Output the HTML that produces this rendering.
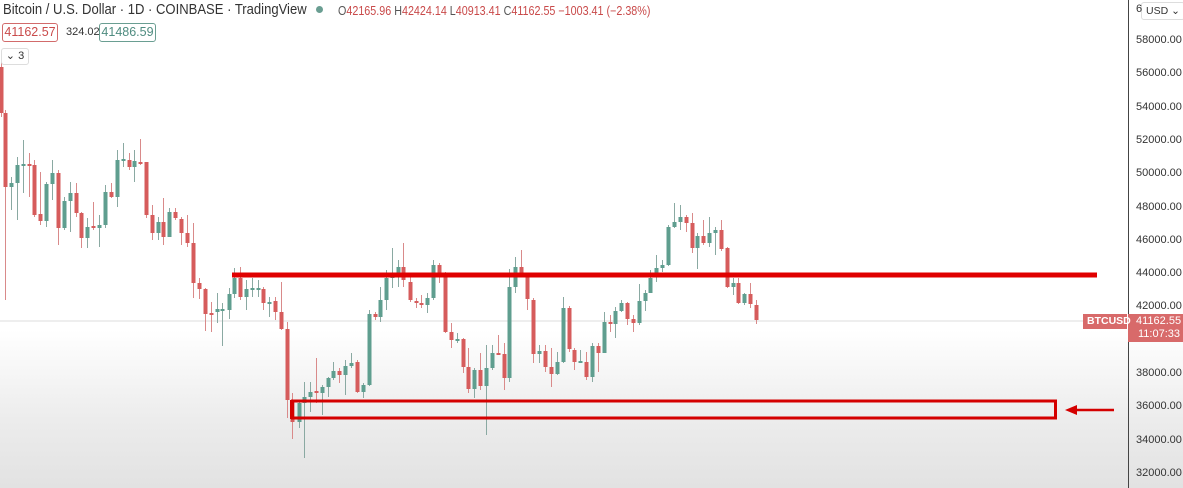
<!DOCTYPE html>
<html><head><meta charset="utf-8"><style>
html,body{margin:0;padding:0;width:1183px;height:488px;overflow:hidden;font-family:"Liberation Sans",sans-serif;}
#bg{position:absolute;left:0;top:0;width:1183px;height:488px;background:linear-gradient(to bottom,#fff 0px,#fff 330px,#ececec 420px,#e2e2e2 488px);}
.t{position:absolute;white-space:nowrap;}
.bx{position:absolute;border-radius:3px;font-size:12.5px;text-align:center;box-sizing:border-box;}
</style></head><body>
<div id="bg"></div>
<svg id="s" width="1183" height="488" style="position:absolute;left:0;top:0">
<line x1="0" y1="321" x2="1128" y2="321" stroke="#dcdcdc" stroke-width="1"/>
<g id="c"></g>
<rect x="232" y="272.5" width="865" height="5" fill="#e00000"/>
<rect x="292.5" y="401" width="763" height="17" fill="none" stroke="#d40000" stroke-width="3"/>
<rect x="290" y="400" width="4" height="19" fill="#d40000"/>
<line x1="1114" y1="410" x2="1074" y2="410" stroke="#d40000" stroke-width="2.5"/>
<polygon points="1065,410 1077,405 1077,415" fill="#d40000"/>
<line x1="1128.5" y1="0" x2="1128.5" y2="488" stroke="#444" stroke-width="1"/>
<rect x="1083" y="314" width="44" height="15" fill="#d86a6a"/>
<rect x="1128" y="314" width="55" height="28" fill="#d86a6a"/>
</svg>
<div class="t" style="left:3px;top:2px;font-size:14.5px;color:#333;transform:scaleX(0.9);transform-origin:0 0">Bitcoin / U.S. Dollar · 1D · COINBASE · TradingView</div>
<div class="t" style="left:316px;top:6px;width:7px;height:7px;border-radius:50%;background:#6a9e92"></div>
<div class="t" style="left:338px;top:4px;font-size:12.5px;color:#c94a4a;transform:scaleX(0.86);transform-origin:0 0"><span style="color:#555">O</span>42165.96 <span style="color:#555">H</span>42424.14 <span style="color:#555">L</span>40913.41 <span style="color:#555">C</span>41162.55 −1003.41 (−2.38%)</div>
<div class="bx" style="left:2px;top:23px;width:56px;height:19px;line-height:17px;border:1px solid #d26b6b;color:#c94a4a">41162.57</div>
<div class="t" style="left:66px;top:26px;font-size:11px;color:#333">324.02</div>
<div class="bx" style="left:99px;top:23px;width:57px;height:19px;line-height:17px;border:1px solid #6a9e92;color:#4f8c80">41486.59</div>
<div class="bx" style="left:1px;top:48px;width:28px;height:17px;line-height:15px;border:1px solid #ddd;color:#333;font-size:11px">⌄ 3</div>
<div class="t" style="left:1141px;top:2px;height:16px;padding:0 4px;border:1px solid #ddd;border-radius:3px;background:#fff;font-size:10.5px;line-height:16px;color:#333">USD ⌄</div>
<div class="t" style="left:1136px;top:3px;font-size:11px;color:#333">6</div>
<div id="ax"></div>
<div class="t" style="left:1087px;top:315px;font-size:10.5px;color:#fff;font-weight:bold">BTCUSD</div>
<div class="t" style="left:1136px;top:315px;font-size:11px;color:#fff">41162.55</div>
<div class="t" style="left:1138px;top:328px;font-size:11px;color:#fff">11:07:33</div>
<script>
var ax=document.getElementById('ax'),h='';
for(var p=58000;p>=32000;p-=2000){var y=41+(58000-p)/2000*33.3;if(p==40000)continue;h+='<div class="t" style="left:1136px;top:'+(y-7)+'px;font-size:11px;color:#333">'+p+'.00</div>';}
ax.innerHTML=h;
var A=[[1,'r',67,113,60,117],[5,'r',113,187,110,300],[11,'g',183,187,177,210],[17,'g',165,183,157,220],[23,'g',164,165,140,193],[29,'r',164,165,153,197],[34,'r',165,215,160,217],[40,'r',214,221,172,225],[46,'g',184,221,182,227],[52,'g',173,184,160,200],[58,'r',173,228,170,245],[64,'g',201,228,197,230],[70,'g',193,201,182,232],[76,'r',193,213,183,217],[81,'r',213,238,212,248],[87,'g',227,238,218,248],[93,'r',226,228,202,230],[99,'g',225,228,215,247],[105,'g',192,225,185,228],[111,'r',192,197,183,198],[117,'g',160,197,150,207],[123,'g',159,160,143,167],[129,'r',160,167,153,170],[134,'g',161,167,150,182],[140,'r',162,164,139,165],[146,'r',162,215,162,218],[152,'r',215,233,205,240],[158,'g',222,233,217,240],[163,'r',222,237,198,245],[169,'g',212,237,208,237],[175,'r',212,218,208,220],[181,'r',219,233,217,245],[187,'r',233,243,215,247],[193,'r',243,283,223,298],[199,'r',283,289,278,299],[205,'r',289,314,288,331],[211,'r',313,314,302,332],[217,'g',309,312,293,323],[222,'g',309,310,303,346],[229,'g',294,310,288,319],[234,'g',278,294,268,298],[240,'r',278,297,267,300],[246,'g',289,297,280,310],[252,'g',288,289,278,297],[258,'g',288,289,280,297],[263,'r',289,303,287,310],[269,'g',302,303,297,317],[275,'r',301,312,297,320],[281,'r',312,329,282,330],[287,'r',329,400,322,418],[292,'r',400,422,393,439],[299,'g',403,422,400,428],[304,'g',397,403,382,458],[310,'g',392,397,382,412],[316,'r',391,393,358,403],[322,'g',387,393,385,415],[328,'g',378,387,377,397],[333,'g',371,378,362,380],[339,'r',371,375,368,383],[345,'g',366,375,360,395],[351,'g',363,366,353,368],[357,'r',362,392,360,393],[363,'g',385,392,383,398],[369,'g',314,385,310,386],[375,'r',314,317,312,320],[380,'g',300,317,287,322],[386,'g',278,300,270,310],[392,'g',273,278,248,288],[398,'g',267,273,260,287],
[403,'r',267,280,243,287],[410,'r',282,300,277,302],[416,'r',301,303,298,308],[421,'r',303,305,295,308],[427,'g',298,305,293,313],[433,'g',265,298,260,300],[439,'r',265,277,263,283],[445,'r',277,332,272,333],[451,'r',332,340,323,348],[457,'g',339,340,333,343],[463,'r',339,367,338,373],[468,'r',367,389,348,393],[474,'g',370,389,368,398],[480,'r',370,386,353,390],[486,'g',368,386,345,435],[492,'g',353,368,345,370],[498,'r',353,355,335,355],[504,'r',354,378,343,390],[509,'g',287,378,269,382],[515,'g',267,287,257,293],[521,'r',267,277,250,277],[527,'r',277,299,275,310],[533,'r',300,354,298,363],[539,'g',351,354,345,363],[545,'r',351,367,345,372],[551,'r',367,374,348,387],[557,'g',362,374,352,375],[563,'g',308,362,297,363],[569,'r',308,349,306,352],[574,'r',350,362,348,370],[580,'g',361,362,350,363],[586,'r',362,377,352,380],[592,'g',346,377,343,382],[598,'r',346,353,343,372],[604,'g',322,353,312,353],[610,'r',322,324,315,332],[615,'g',311,324,307,338],[621,'g',303,311,300,312],[627,'r',303,319,302,325],[633,'r',319,323,315,332],[639,'g',301,323,284,325],[645,'g',293,301,290,311],[650,'g',278,293,270,293],[656,'g',268,273,255,282],[662,'g',265,268,260,272],[668,'g',227,265,225,266],[674,'g',222,227,203,228],[680,'g',217,222,205,230],[686,'r',217,223,215,232],[692,'r',223,248,213,253],[697,'g',236,248,233,269],[703,'r',236,243,220,245],[709,'g',233,243,217,247],[715,'g',230,233,227,255],[721,'r',230,249,220,251],[727,'r',248,287,247,288],[733,'g',283,287,278,295],[738,'r',283,303,278,304],[744,'g',294,303,293,305],[750,'r',294,304,283,308],[756,'r',305,320,300,324]];
var g='';A.forEach(function(c){var col=c[1]=='g'?'#5f9e8f':'#d65c5c';var wc=c[1]=='g'?'#8aa9a2':'#d98a8a';var t=Math.min(c[2],c[3]),b=Math.max(c[2],c[3]);if(b-t<2)b=t+2;
g+='<line x1="'+(c[0]+0.5)+'" y1="'+c[4]+'" x2="'+(c[0]+0.5)+'" y2="'+c[5]+'" stroke="'+wc+'" stroke-width="1"/>';
g+='<rect x="'+(c[0]-1.5)+'" y="'+t+'" width="4" height="'+(b-t)+'" fill="'+col+'"/>';});
document.getElementById('c').innerHTML=g;
</script>
</body></html>
